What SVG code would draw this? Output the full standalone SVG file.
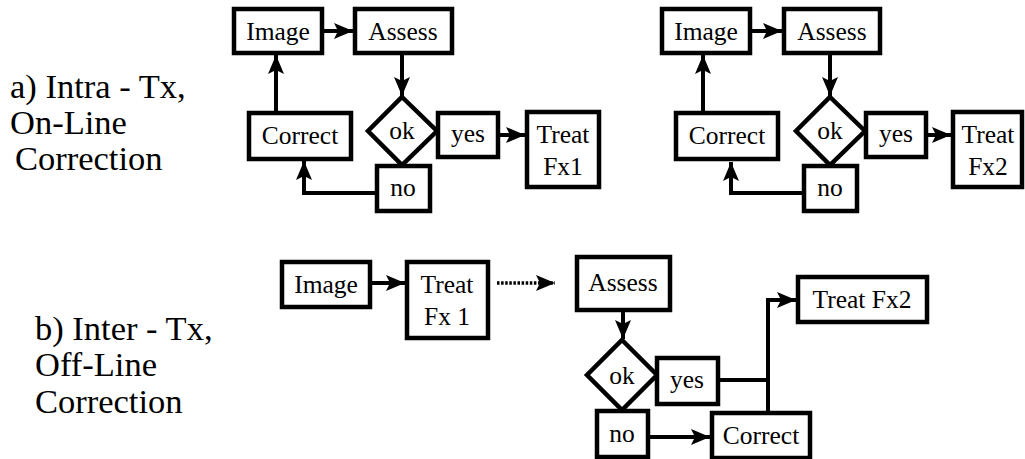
<svg xmlns="http://www.w3.org/2000/svg" width="1025" height="459" viewBox="0 0 1025 459">
  <style>
    .box { fill: #fff; stroke: #000; stroke-width: 4.5; }
    .t { font-family: "Liberation Serif", "Times New Roman", serif; font-size: 25.5px; fill: #000; text-anchor: middle; }
    .lbl { font-family: "Liberation Serif", "Times New Roman", serif; font-size: 34.5px; fill: #000; }
    .ln { fill: none; stroke: #000; stroke-width: 4; }
    .arr { marker-end: url(#head); }
    .dot { stroke-dasharray: 2.5 1.6; stroke-width: 3.5; }
  </style>
  <defs>
    <!-- barbed arrowhead, tip at the path end -->
    <marker id="head" markerUnits="userSpaceOnUse" markerWidth="22" markerHeight="18" refX="19" refY="8" orient="auto">
      <path d="M0,0 L19,8 L0,16 L4,8 Z" fill="#000"/>
    </marker>
  </defs>
  <rect width="1025" height="459" fill="#fff"/>

  <!-- section captions -->
  <g id="caption-a">
    <text class="lbl" x="10" y="98">a) Intra - Tx,</text>
    <text class="lbl" x="10" y="134">On-Line</text>
    <text class="lbl" x="15" y="170">Correction</text>
  </g>
  <g id="caption-b">
    <text class="lbl" x="35" y="340">b) Inter - Tx,</text>
    <text class="lbl" x="35" y="376">Off-Line</text>
    <text class="lbl" x="35" y="413">Correction</text>
  </g>

  <!-- connectors -->
  <g id="connectors">
    <!-- a) first fraction -->
    <line class="ln arr" x1="324" y1="31" x2="353" y2="31"/>
    <line class="ln arr" x1="402" y1="55" x2="402" y2="96"/>
    <line class="ln arr" x1="276" y1="111" x2="276" y2="55"/>
    <line class="ln arr" x1="500" y1="135" x2="525" y2="135"/>
    <polyline class="ln arr" points="375,193 304,193 304,161"/>
    <!-- a) second fraction -->
    <line class="ln arr" x1="752" y1="31" x2="782" y2="31"/>
    <line class="ln arr" x1="830" y1="55" x2="830" y2="96"/>
    <line class="ln arr" x1="703" y1="111" x2="703" y2="55"/>
    <line class="ln arr" x1="928" y1="135" x2="951" y2="135"/>
    <polyline class="ln arr" points="802,193 731,193 731,162"/>
    <!-- b) -->
    <line class="ln arr" x1="372" y1="283" x2="405" y2="283"/>
    <line class="ln dot arr" x1="497" y1="283" x2="555" y2="283"/>
    <line class="ln arr" x1="623" y1="312" x2="623" y2="339"/>
    <line class="ln" x1="720" y1="380" x2="768" y2="380"/>
    <polyline class="ln arr" points="768,411 768,300 796,300"/>
    <line class="ln arr" x1="650" y1="437" x2="710" y2="437"/>
  </g>

  <!-- a) first fraction nodes -->
  <g id="a1-image"><rect class="box" x="234" y="9" width="88" height="44"/><text class="t" x="278" y="40">Image</text></g>
  <g id="a1-assess"><rect class="box" x="355" y="9" width="97" height="44"/><text class="t" x="403" y="40">Assess</text></g>
  <g id="a1-ok"><polygon class="box" points="402,97 437,131 402,165 368,131"/><text class="t" x="402" y="139">ok</text></g>
  <g id="a1-correct"><rect class="box" x="249" y="113" width="102" height="46"/><text class="t" x="300" y="144">Correct</text></g>
  <g id="a1-yes"><rect class="box" x="438" y="113" width="60" height="44"/><text class="t" x="468" y="142">yes</text></g>
  <g id="a1-no"><rect class="box" x="377" y="166" width="53" height="45"/><text class="t" x="403" y="196">no</text></g>
  <g id="a1-treat"><rect class="box" x="527" y="112" width="72" height="75"/><text class="t" x="563" y="143">Treat</text><text class="t" x="563" y="175">Fx1</text></g>

  <!-- a) second fraction nodes -->
  <g id="a2-image"><rect class="box" x="662" y="9" width="88" height="44"/><text class="t" x="706" y="40">Image</text></g>
  <g id="a2-assess"><rect class="box" x="784" y="9" width="96" height="44"/><text class="t" x="832" y="40">Assess</text></g>
  <g id="a2-ok"><polygon class="box" points="830,97 865,131 830,165 796,131"/><text class="t" x="830" y="139">ok</text></g>
  <g id="a2-correct"><rect class="box" x="676" y="113" width="102" height="46"/><text class="t" x="727" y="144">Correct</text></g>
  <g id="a2-yes"><rect class="box" x="866" y="113" width="60" height="44"/><text class="t" x="896" y="142">yes</text></g>
  <g id="a2-no"><rect class="box" x="804" y="166" width="53" height="45"/><text class="t" x="830" y="196">no</text></g>
  <g id="a2-treat"><rect class="box" x="953" y="112" width="69" height="75"/><text class="t" x="988" y="143">Treat</text><text class="t" x="988" y="175">Fx2</text></g>

  <!-- b) nodes -->
  <g id="b-image"><rect class="box" x="282" y="262" width="88" height="45"/><text class="t" x="326" y="293">Image</text></g>
  <g id="b-treat1"><rect class="box" x="407" y="262" width="81" height="76"/><text class="t" x="447" y="293">Treat</text><text class="t" x="447" y="325">Fx 1</text></g>
  <g id="b-assess"><rect class="box" x="577" y="257" width="93" height="53"/><text class="t" x="623" y="291">Assess</text></g>
  <g id="b-ok"><polygon class="box" points="622,340 657,375 622,410 587,375"/><text class="t" x="622" y="384">ok</text></g>
  <g id="b-yes"><rect class="box" x="657" y="358" width="61" height="46"/><text class="t" x="687" y="388">yes</text></g>
  <g id="b-no"><rect class="box" x="597" y="411" width="51" height="46"/><text class="t" x="622" y="442">no</text></g>
  <g id="b-correct"><rect class="box" x="712" y="413" width="98" height="45"/><text class="t" x="761" y="444">Correct</text></g>
  <g id="b-treat2"><rect class="box" x="798" y="277" width="129" height="45"/><text class="t" x="862" y="308">Treat Fx2</text></g>
</svg>
